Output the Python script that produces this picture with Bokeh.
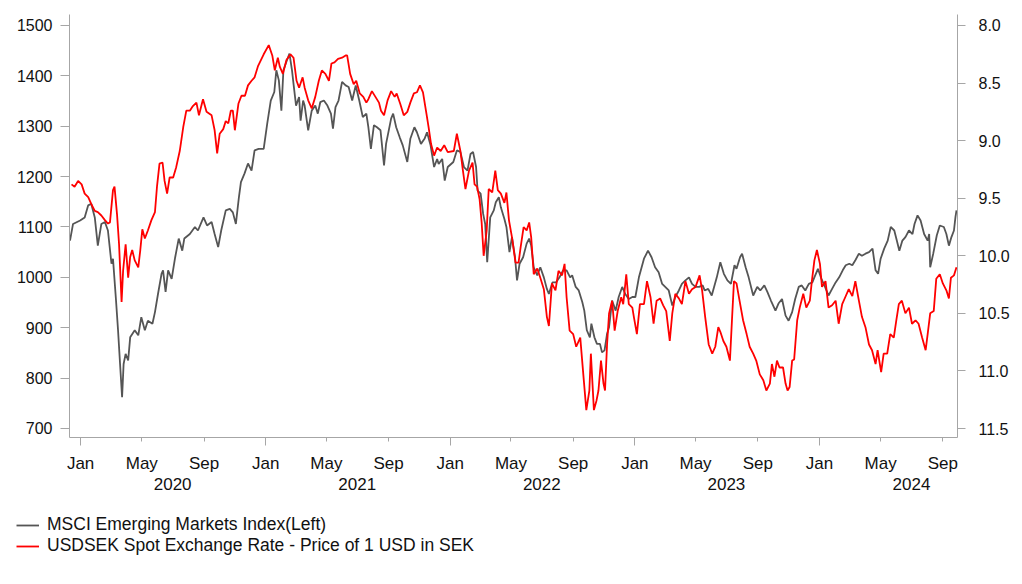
import pandas as pd
from bokeh.plotting import figure
from bokeh.layouts import column
from bokeh.models import (LinearAxis, DatetimeAxis, Range1d, FixedTicker, Legend, LegendItem,
                          NumeralTickFormatter, DatetimeTickFormatter, CustomJSTickFormatter)
from bokeh.embed import file_html
from bokeh.resources import INLINE

# ---------------- data ----------------
msci_dates = [
    "2019-12-11", "2019-12-17", "2019-12-31", "2020-01-09", "2020-01-16", "2020-01-22", "2020-01-29",
    "2020-02-04", "2020-02-11", "2020-02-18", "2020-02-24", "2020-03-02", "2020-03-05", "2020-03-11",
    "2020-03-15", "2020-03-19", "2020-03-23", "2020-03-26", "2020-03-30", "2020-04-04", "2020-04-08",
    "2020-04-17", "2020-04-24", "2020-04-30", "2020-05-07", "2020-05-13", "2020-05-22", "2020-05-27",
    "2020-06-02", "2020-06-09", "2020-06-12", "2020-06-17", "2020-06-22", "2020-06-29", "2020-07-06",
    "2020-07-13", "2020-07-20", "2020-07-24", "2020-08-04", "2020-08-14", "2020-08-20", "2020-08-31",
    "2020-09-07", "2020-09-16", "2020-09-22", "2020-09-29", "2020-10-05", "2020-10-14", "2020-10-22",
    "2020-10-28", "2020-11-03", "2020-11-09", "2020-11-13", "2020-11-20", "2020-11-27", "2020-12-04",
    "2020-12-10", "2020-12-18", "2020-12-28", "2021-01-04", "2021-01-11", "2021-01-18", "2021-01-22",
    "2021-01-27", "2021-02-01", "2021-02-05", "2021-02-12", "2021-02-17", "2021-02-22", "2021-02-25",
    "2021-03-02", "2021-03-08", "2021-03-11", "2021-03-16", "2021-03-19", "2021-03-26", "2021-04-02",
    "2021-04-09", "2021-04-14", "2021-04-19", "2021-04-26", "2021-05-03", "2021-05-10", "2021-05-14",
    "2021-05-19", "2021-05-25", "2021-06-01", "2021-06-08", "2021-06-14", "2021-06-21", "2021-06-28",
    "2021-07-05", "2021-07-12", "2021-07-19", "2021-07-23", "2021-07-28", "2021-08-03", "2021-08-09",
    "2021-08-16", "2021-08-18", "2021-08-23", "2021-08-27", "2021-09-06", "2021-09-10", "2021-09-16",
    "2021-09-23", "2021-09-29", "2021-10-08", "2021-10-14", "2021-10-22", "2021-10-27", "2021-11-04",
    "2021-11-11", "2021-11-16", "2021-11-23", "2021-11-30", "2021-12-06", "2021-12-09", "2021-12-16",
    "2021-12-21", "2021-12-27", "2022-01-07", "2022-01-14", "2022-01-21", "2022-01-28", "2022-02-04",
    "2022-02-10", "2022-02-15", "2022-02-21", "2022-02-24", "2022-03-02", "2022-03-07", "2022-03-11",
    "2022-03-15", "2022-03-21", "2022-03-28", "2022-04-01", "2022-04-07", "2022-04-11", "2022-04-18",
    "2022-04-22", "2022-04-28", "2022-05-03", "2022-05-09", "2022-05-13", "2022-05-18", "2022-05-25",
    "2022-06-01", "2022-06-06", "2022-06-10", "2022-06-15", "2022-06-22", "2022-06-28", "2022-07-05",
    "2022-07-11", "2022-07-15", "2022-07-22", "2022-07-29", "2022-08-05", "2022-08-12", "2022-08-19",
    "2022-08-26", "2022-08-30", "2022-09-06", "2022-09-12", "2022-09-19", "2022-09-23", "2022-09-28",
    "2022-10-04", "2022-10-07", "2022-10-13", "2022-10-18", "2022-10-24", "2022-10-28", "2022-11-02",
    "2022-11-07", "2022-11-11", "2022-11-17", "2022-11-24", "2022-11-30", "2022-12-07", "2022-12-13",
    "2022-12-20", "2022-12-27", "2023-01-02", "2023-01-09", "2023-01-19", "2023-01-27", "2023-02-03",
    "2023-02-10", "2023-02-17", "2023-02-24", "2023-03-02", "2023-03-09", "2023-03-16", "2023-03-22",
    "2023-03-29", "2023-04-04", "2023-04-11", "2023-04-18", "2023-04-24", "2023-05-01", "2023-05-08",
    "2023-05-15", "2023-05-19", "2023-05-26", "2023-06-02", "2023-06-12", "2023-06-19", "2023-06-26",
    "2023-07-03", "2023-07-10", "2023-07-17", "2023-07-21", "2023-07-28", "2023-08-01", "2023-08-08",
    "2023-08-14", "2023-08-23", "2023-08-31", "2023-09-06", "2023-09-14", "2023-09-20", "2023-09-27",
    "2023-10-06", "2023-10-12", "2023-10-19", "2023-10-26", "2023-11-01", "2023-11-08", "2023-11-14",
    "2023-11-21", "2023-11-27", "2023-12-04", "2023-12-11", "2023-12-18", "2023-12-22", "2023-12-29",
    "2024-01-05", "2024-01-12", "2024-01-19", "2024-01-26", "2024-02-02", "2024-02-09", "2024-02-16",
    "2024-02-22", "2024-02-29", "2024-03-06", "2024-03-12", "2024-03-19", "2024-03-25", "2024-04-01",
    "2024-04-08", "2024-04-15", "2024-04-21", "2024-04-26", "2024-05-01", "2024-05-08", "2024-05-15",
    "2024-05-21", "2024-05-28", "2024-06-02", "2024-06-07", "2024-06-13", "2024-06-19", "2024-06-26",
    "2024-07-03", "2024-07-07", "2024-07-13", "2024-07-19", "2024-07-26", "2024-08-02", "2024-08-05",
    "2024-08-07", "2024-08-13", "2024-08-20", "2024-08-26", "2024-09-03", "2024-09-08", "2024-09-13",
    "2024-09-18", "2024-09-23", "2024-09-26", "2024-09-28",
]
msci_values = [
    1073, 1106, 1113, 1119, 1143, 1146, 1119,
    1063, 1106, 1110, 1093, 1027, 1037, 954,
    895, 828, 762, 828, 848, 835, 881,
    895, 885, 921, 895, 914, 908, 931,
    967, 1007, 1014, 971, 1014, 997, 1040,
    1077, 1053, 1077, 1086, 1100, 1093, 1119,
    1103, 1110, 1086, 1060, 1093, 1133, 1136,
    1129, 1106, 1159, 1189, 1206, 1226, 1212,
    1252, 1255, 1255, 1305, 1351, 1368, 1411,
    1391, 1331, 1411, 1431, 1444, 1411, 1384,
    1341, 1358, 1311, 1351, 1341, 1292, 1331,
    1341, 1325, 1348, 1351, 1341, 1325, 1295,
    1338, 1351, 1388, 1381, 1378, 1351, 1381,
    1351, 1318, 1325, 1298, 1255, 1302, 1298,
    1292, 1272, 1222, 1265, 1315, 1325, 1298,
    1278, 1262, 1229, 1275, 1298, 1288, 1265,
    1275, 1288, 1262, 1219, 1235, 1225, 1235,
    1192, 1219, 1229, 1252, 1249, 1219, 1212,
    1245, 1249, 1219, 1172, 1166, 1126, 1106,
    1030, 1119, 1133, 1149, 1159, 1139, 1116,
    1100, 1050, 1080, 1040, 994, 1027, 1040,
    1067, 1077, 1063, 1020, 1004, 1020, 1000,
    977, 967, 990, 990, 1000, 1014, 1014,
    1000, 1004, 981, 974, 951, 934, 895,
    881, 908, 881, 868, 868, 851, 855,
    888, 901, 954, 934, 961, 981, 967,
    957, 961, 961, 1000, 1037, 1053, 1040,
    1020, 1010, 987, 981, 974, 944, 961,
    974, 987, 994, 1000, 987, 981, 981,
    984, 974, 977, 964, 1000, 1030, 1007,
    994, 987, 1024, 1017, 1040, 1047, 1020,
    1000, 964, 981, 974, 984, 971, 954,
    934, 948, 957, 924, 914, 931, 957,
    981, 984, 974, 987, 990, 1000, 1017,
    997, 981, 964, 977, 990, 1000, 1014,
    1024, 1027, 1024, 1034, 1047, 1043, 1047,
    1050, 1057, 1014, 1007, 1037, 1057, 1073,
    1100, 1093, 1073, 1053, 1073, 1080, 1093,
    1086, 1106, 1123, 1113, 1086, 1073, 1086,
    1020, 1047, 1083, 1103, 1100, 1086, 1063,
    1080, 1093, 1120, 1133,
]

sek_dates = [
    "2019-12-14", "2019-12-20", "2019-12-27", "2020-01-03", "2020-01-09", "2020-01-16", "2020-01-22",
    "2020-01-29", "2020-02-04", "2020-02-11", "2020-02-18", "2020-02-24", "2020-02-28", "2020-03-05",
    "2020-03-08", "2020-03-13", "2020-03-17", "2020-03-22", "2020-03-25", "2020-03-30", "2020-04-04",
    "2020-04-08", "2020-04-12", "2020-04-17", "2020-04-24", "2020-04-28", "2020-05-02", "2020-05-07",
    "2020-05-13", "2020-05-20", "2020-05-27", "2020-05-31", "2020-06-05", "2020-06-11", "2020-06-15",
    "2020-06-20", "2020-06-25", "2020-07-02", "2020-07-08", "2020-07-15", "2020-07-22", "2020-07-28",
    "2020-08-04", "2020-08-10", "2020-08-17", "2020-08-22", "2020-08-30", "2020-09-06", "2020-09-16",
    "2020-09-22", "2020-09-27", "2020-10-02", "2020-10-09", "2020-10-14", "2020-10-19", "2020-10-24",
    "2020-10-28", "2020-11-01", "2020-11-08", "2020-11-14", "2020-11-21", "2020-11-27", "2020-12-04",
    "2020-12-10", "2020-12-17", "2020-12-28", "2021-01-07", "2021-01-14", "2021-01-19", "2021-01-25",
    "2021-01-29", "2021-02-04", "2021-02-11", "2021-02-19", "2021-02-25", "2021-03-03", "2021-03-08",
    "2021-03-15", "2021-03-19", "2021-03-26", "2021-04-02", "2021-04-09", "2021-04-16", "2021-04-22",
    "2021-04-29", "2021-05-06", "2021-05-11", "2021-05-17", "2021-05-24", "2021-06-01", "2021-06-08",
    "2021-06-11", "2021-06-17", "2021-06-24", "2021-06-29", "2021-07-06", "2021-07-13", "2021-07-19",
    "2021-07-23", "2021-07-30", "2021-08-06", "2021-08-13", "2021-08-17", "2021-08-23", "2021-08-30",
    "2021-09-06", "2021-09-13", "2021-09-17", "2021-09-24", "2021-10-01", "2021-10-08", "2021-10-14",
    "2021-10-21", "2021-10-27", "2021-11-02", "2021-11-08", "2021-11-15", "2021-11-19", "2021-11-24",
    "2021-11-30", "2021-12-06", "2021-12-13", "2021-12-20", "2021-12-27", "2022-01-08", "2022-01-14",
    "2022-01-21", "2022-01-26", "2022-01-31", "2022-02-07", "2022-02-14", "2022-02-18", "2022-02-23",
    "2022-02-28", "2022-03-04", "2022-03-08", "2022-03-14", "2022-03-18", "2022-03-25", "2022-03-31",
    "2022-04-05", "2022-04-11", "2022-04-18", "2022-04-22", "2022-04-27", "2022-05-03", "2022-05-10",
    "2022-05-16", "2022-05-20", "2022-05-26", "2022-06-01", "2022-06-06", "2022-06-10", "2022-06-15",
    "2022-06-22", "2022-06-28", "2022-07-05", "2022-07-11", "2022-07-15", "2022-07-21", "2022-07-28",
    "2022-08-03", "2022-08-10", "2022-08-15", "2022-08-19", "2022-08-25", "2022-09-01", "2022-09-07",
    "2022-09-15", "2022-09-22", "2022-09-27", "2022-10-03", "2022-10-06", "2022-10-12", "2022-10-17",
    "2022-10-21", "2022-10-26", "2022-10-31", "2022-11-03", "2022-11-07", "2022-11-11", "2022-11-17",
    "2022-11-22", "2022-11-28", "2022-12-05", "2022-12-09", "2022-12-15", "2022-12-20", "2022-12-27",
    "2022-12-30", "2023-01-05", "2023-01-11", "2023-01-19", "2023-01-25", "2023-02-01", "2023-02-07",
    "2023-02-13", "2023-02-20", "2023-02-26", "2023-03-04", "2023-03-11", "2023-03-16", "2023-03-22",
    "2023-03-29", "2023-04-04", "2023-04-11", "2023-04-18", "2023-04-24", "2023-05-01", "2023-05-09",
    "2023-05-14", "2023-05-20", "2023-05-27", "2023-06-03", "2023-06-09", "2023-06-15", "2023-06-19",
    "2023-06-25", "2023-07-01", "2023-07-08", "2023-07-12", "2023-07-16", "2023-07-21", "2023-07-27",
    "2023-08-03", "2023-08-10", "2023-08-16", "2023-08-23", "2023-08-29", "2023-09-05", "2023-09-12",
    "2023-09-18", "2023-09-25", "2023-09-29", "2023-10-04", "2023-10-09", "2023-10-14", "2023-10-21",
    "2023-10-26", "2023-10-30", "2023-11-03", "2023-11-08", "2023-11-12", "2023-11-18", "2023-11-23",
    "2023-11-30", "2023-12-06", "2023-12-13", "2023-12-17", "2023-12-22", "2023-12-27", "2024-01-02",
    "2024-01-06", "2024-01-13", "2024-01-19", "2024-01-26", "2024-02-02", "2024-02-08", "2024-02-15",
    "2024-02-21", "2024-02-28", "2024-03-06", "2024-03-12", "2024-03-19", "2024-03-25", "2024-04-01",
    "2024-04-08", "2024-04-14", "2024-04-21", "2024-04-25", "2024-05-02", "2024-05-07", "2024-05-14",
    "2024-05-20", "2024-05-27", "2024-06-01", "2024-06-06", "2024-06-12", "2024-06-19", "2024-06-26",
    "2024-07-02", "2024-07-09", "2024-07-15", "2024-07-22", "2024-07-29", "2024-08-02", "2024-08-07",
    "2024-08-14", "2024-08-19", "2024-08-26", "2024-09-01", "2024-09-08", "2024-09-13", "2024-09-17",
    "2024-09-23", "2024-09-28",
]
sek_values = [
    9.38, 9.40, 9.35, 9.38, 9.46, 9.49, 9.55,
    9.61, 9.62, 9.65, 9.69, 9.72, 9.71, 9.43,
    9.40, 9.64, 9.90, 10.40, 10.13, 9.90, 10.19,
    10.01, 9.95, 10.04, 10.10, 9.95, 9.77, 9.85,
    9.78, 9.69, 9.62, 9.40, 9.20, 9.19, 9.35,
    9.46, 9.32, 9.32, 9.23, 9.09, 8.88, 8.74,
    8.74, 8.70, 8.67, 8.78, 8.64, 8.75, 8.78,
    8.91, 9.11, 8.94, 8.90, 8.83, 8.85, 8.74,
    8.74, 8.91, 8.68, 8.61, 8.61, 8.52, 8.48,
    8.45, 8.35, 8.25, 8.17, 8.26, 8.39, 8.28,
    8.36, 8.42, 8.30, 8.25, 8.28, 8.48, 8.54,
    8.45, 8.54, 8.65, 8.72, 8.62, 8.48, 8.39,
    8.42, 8.48, 8.33, 8.32, 8.29, 8.28, 8.26,
    8.26, 8.42, 8.51, 8.48, 8.59, 8.62, 8.67,
    8.64, 8.57, 8.62, 8.67, 8.74, 8.78, 8.65,
    8.57, 8.62, 8.59, 8.68, 8.78, 8.75, 8.67,
    8.59, 8.58, 8.52, 8.58, 8.77, 8.88, 9.03,
    9.13, 9.06, 9.09, 9.04, 9.10, 9.09, 8.94,
    9.09, 9.26, 9.42, 9.26, 9.19, 9.38, 9.40,
    9.51, 9.71, 10.00, 9.78, 9.42, 9.45, 9.26,
    9.43, 9.46, 9.54, 9.45, 9.69, 9.84, 10.06,
    10.06, 9.93, 9.75, 9.78, 9.71, 9.84, 10.16,
    10.11, 10.19, 10.29, 10.53, 10.61, 10.24, 10.30,
    10.13, 10.17, 10.07, 10.36, 10.65, 10.68, 10.79,
    10.71, 11.08, 11.34, 11.17, 10.85, 11.34, 11.26,
    11.17, 10.91, 11.11, 11.17, 10.77, 10.50, 10.39,
    10.65, 10.48, 10.36, 10.42, 10.16, 10.42, 10.45,
    10.53, 10.68, 10.42, 10.42, 10.22, 10.36, 10.59,
    10.39, 10.37, 10.43, 10.48, 10.74, 10.50, 10.33,
    10.37, 10.42, 10.22, 10.33, 10.29, 10.27, 10.17,
    10.30, 10.53, 10.77, 10.85, 10.79, 10.62, 10.66,
    10.74, 10.79, 10.91, 10.56, 10.22, 10.24, 10.39,
    10.56, 10.68, 10.79, 10.85, 10.91, 11.03, 11.08,
    11.17, 11.11, 10.94, 11.05, 10.91, 10.97, 10.97,
    11.11, 11.17, 11.14, 10.91, 10.90, 10.56, 10.45,
    10.33, 10.45, 10.39, 10.22, 10.04, 9.95, 10.07,
    10.27, 10.22, 10.45, 10.43, 10.39, 10.59, 10.42,
    10.36, 10.29, 10.35, 10.22, 10.39, 10.53, 10.62,
    10.77, 10.82, 10.94, 10.82, 11.01, 10.85, 10.85,
    10.68, 10.71, 10.56, 10.42, 10.39, 10.50, 10.45,
    10.59, 10.56, 10.59, 10.71, 10.82, 10.68, 10.50,
    10.48, 10.20, 10.16, 10.24, 10.30, 10.37, 10.19,
    10.17, 10.10,
]

month_tick_dates = [
    "2020-01-01", "2020-05-01", "2020-09-01", "2021-01-01", "2021-05-01", "2021-09-01",
    "2022-01-01", "2022-05-01", "2022-09-01", "2023-01-01", "2023-05-01", "2023-09-01",
    "2024-01-01", "2024-05-01", "2024-09-01",
]
year_label_dates = ["2020-07-01", "2021-07-01", "2022-07-01", "2023-07-01", "2024-07-01"]
left_ticks = [700, 800, 900, 1000, 1100, 1200, 1300, 1400, 1500]
right_ticks = [8.0, 8.5, 9.0, 9.5, 10.0, 10.5, 11.0, 11.5]

msci_label = "MSCI Emerging Markets Index(Left)"
sek_label = "USDSEK Spot Exchange Rate - Price of 1 USD in SEK"


def ms(d):
    return float(pd.Timestamp(d).value // 10**6)


FONT = "Liberation Sans"
AXIS_COLOR = "#a6a6a6"
TEXT_COLOR = "#111111"
GRAY = "#555555"
RED = "#ff0000"
LW = 1.8

msci_x = [pd.Timestamp(d) for d in msci_dates]
sek_x = [pd.Timestamp(d) for d in sek_dates]

p = figure(frame_width=888, frame_height=423, x_axis_type="datetime", output_backend="svg",
           toolbar_location=None,
           x_range=Range1d(ms("2019-12-10"), ms("2024-09-30")),
           y_range=Range1d(682.1, 1521.8),
           min_border_left=69, min_border_right=65, min_border_top=14, min_border_bottom=0)
p.outline_line_color = None
p.xgrid.visible = False
p.ygrid.visible = False

p.extra_y_ranges = {"sek": Range1d(start=11.578, end=7.9045)}

p.line(msci_x, msci_values, line_color=GRAY, line_width=LW)
p.line(sek_x, sek_values, line_color=RED, line_width=LW, y_range_name="sek")

# left axis
ya = p.yaxis[0]
ya.ticker = FixedTicker(ticks=left_ticks, minor_ticks=[])
ya.axis_line_color = AXIS_COLOR
ya.major_tick_line_color = AXIS_COLOR
ya.major_tick_out = 9
ya.major_tick_in = 0
ya.minor_tick_line_color = None
ya.major_label_standoff = 8
ya.major_label_text_font = FONT
ya.major_label_text_font_size = "16px"
ya.major_label_text_color = TEXT_COLOR

# right axis (inverted)
yr = LinearAxis(y_range_name="sek", ticker=FixedTicker(ticks=right_ticks, minor_ticks=[]),
                formatter=NumeralTickFormatter(format="0.0"))
yr.axis_line_color = AXIS_COLOR
yr.major_tick_line_color = AXIS_COLOR
yr.major_tick_out = 8
yr.major_tick_in = 0
yr.minor_tick_line_color = None
yr.major_label_standoff = 13
yr.major_label_text_font = FONT
yr.major_label_text_font_size = "16px"
yr.major_label_text_color = TEXT_COLOR
p.add_layout(yr, "right")

# bottom axis: tick marks only (long at Jan, short at May/Sep)
jan_ticks = [ms(d) for d in month_tick_dates if d.endswith("01-01")]
other_ticks = [ms(d) for d in month_tick_dates if not d.endswith("01-01")]
xa = p.xaxis[0]
xa.ticker = FixedTicker(ticks=jan_ticks, minor_ticks=other_ticks)
xa.formatter = CustomJSTickFormatter(code="return ''")
xa.axis_line_color = AXIS_COLOR
xa.major_tick_line_color = AXIS_COLOR
xa.minor_tick_line_color = AXIS_COLOR
xa.major_tick_out = 8
xa.major_tick_in = 0
xa.minor_tick_out = 4
xa.minor_tick_in = 0
xa.major_label_standoff = 0
xa.major_label_text_font_size = "1px"

# month labels
xm = DatetimeAxis(ticker=FixedTicker(ticks=[ms(d) for d in month_tick_dates], minor_ticks=[]),
                  formatter=DatetimeTickFormatter(days="%b", months="%b", years="%b"))
xm.axis_line_color = None
xm.major_tick_line_color = None
xm.minor_tick_line_color = None
xm.major_label_standoff = 2
xm.major_label_text_font = FONT
xm.major_label_text_font_size = "17px"
xm.major_label_text_color = TEXT_COLOR
p.add_layout(xm, "below")

# year labels
xy = DatetimeAxis(ticker=FixedTicker(ticks=[ms(d) for d in year_label_dates], minor_ticks=[]),
                  formatter=DatetimeTickFormatter(days="%Y", months="%Y", years="%Y"))
xy.axis_line_color = None
xy.major_tick_line_color = None
xy.minor_tick_line_color = None
xy.major_label_standoff = -4
xy.major_label_text_font = FONT
xy.major_label_text_font_size = "17px"
xy.major_label_text_color = TEXT_COLOR
p.add_layout(xy, "below")

# legend, drawn in its own strip under the chart (series lie outside this strip's ranges)
pl = figure(width=1022, height=80, output_backend="svg", toolbar_location=None,
            x_axis_location=None, y_axis_location=None, min_border=0,
            x_range=Range1d(0, 1), y_range=Range1d(0, 1))
pl.outline_line_color = None
pl.xgrid.visible = False
pl.ygrid.visible = False
lg_msci = pl.line(msci_x, msci_values, line_color=GRAY, line_width=LW)
lg_sek = pl.line(sek_x, sek_values, line_color=RED, line_width=LW)
legend = Legend(items=[LegendItem(label=msci_label, renderers=[lg_msci]),
                       LegendItem(label=sek_label, renderers=[lg_sek])],
                location=(16, 16), orientation="vertical",
                border_line_color=None, background_fill_alpha=0,
                padding=0, margin=0, spacing=0,
                glyph_width=23, glyph_height=18, label_height=18, label_standoff=8,
                label_text_font=FONT, label_text_font_size="17.5px", label_text_color=TEXT_COLOR)
pl.add_layout(legend)

open("out.html", "w").write(file_html(column(p, column(pl)), INLINE))
